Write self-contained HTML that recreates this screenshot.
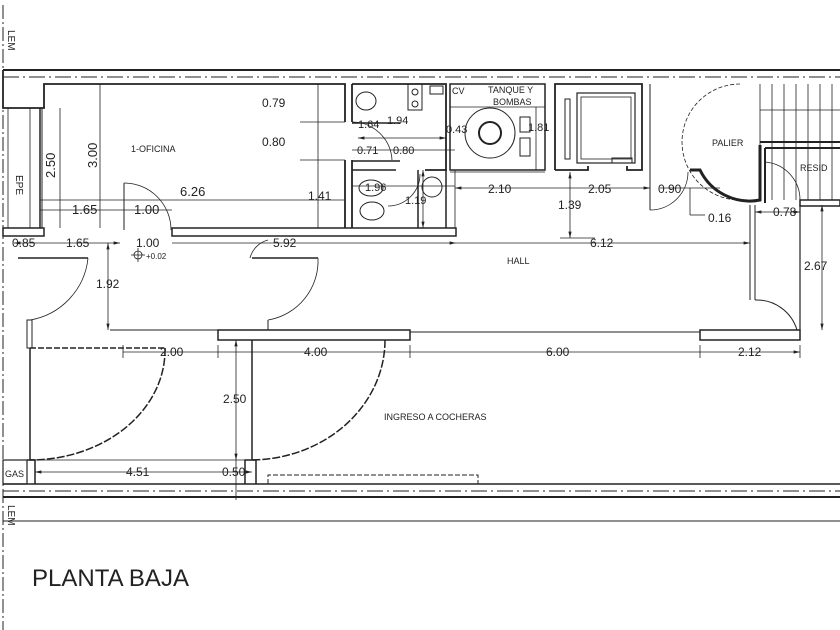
<!DOCTYPE html>
<html><head><meta charset="utf-8"><style>
html,body{margin:0;padding:0;background:#fff;}
svg{display:block;}
text{font-family:"Liberation Sans",sans-serif;fill:#222;}
</style></head><body>
<svg width="840" height="630" viewBox="0 0 840 630" xmlns="http://www.w3.org/2000/svg">
<defs>
<marker id="a" markerWidth="8" markerHeight="6" refX="8" refY="3" orient="auto-start-reverse"><path d="M0,1 L8,3 L0,5z" fill="#222"/></marker>
</defs>
<g stroke="#222" fill="none">
<line x1="3" y1="5" x2="3" y2="640" stroke-width="1" stroke-dasharray="14,3,2,3"/>
<line x1="3" y1="70" x2="840" y2="70" stroke-width="2"/>
<line x1="3" y1="77" x2="840" y2="77" stroke-width="1" stroke-dasharray="16,4,2,4"/>
<line x1="3" y1="484" x2="840" y2="484" stroke-width="1.5"/>
<line x1="3" y1="491" x2="840" y2="491" stroke-width="1" stroke-dasharray="16,4,2,4"/>
<line x1="3" y1="497" x2="840" y2="497" stroke-width="2"/>
<line x1="3" y1="521" x2="840" y2="521" stroke-width="1"/>
<path d="M3,70 V108 H44 V84 H345 V122" stroke-width="1.8"/>
<line x1="40" y1="108" x2="40" y2="228" stroke-width="1.5"/>
<line x1="42" y1="108" x2="42" y2="228" stroke-width="1"/>
<line x1="30" y1="108" x2="30" y2="228" stroke-width="0.8"/>
<line x1="8" y1="108" x2="8" y2="228" stroke-width="0.8"/>
<rect x="3" y="228" width="41" height="8" stroke-width="1.5"/>
<rect x="172" y="228" width="284" height="8" stroke-width="1.5"/>
<path d="M345,160 V228" stroke-width="1.8"/>
<line x1="124" y1="183" x2="124" y2="230" stroke-width="1"/>
<path d="M124,183 A47,47 0 0 1 171,230" stroke-width="0.8"/>
<path d="M352,84 V122 M352,160 V228 M352,84 H446 V170 H425" stroke-width="1.8"/>
<path d="M352,123 H400 M352,161 H400 M418,170 V228 M352,170 H396" stroke-width="1.5"/>
<line x1="446" y1="170" x2="446" y2="228" stroke-width="1.5"/>
<line x1="455" y1="170" x2="455" y2="228" stroke-width="0.8"/>
<ellipse cx="366" cy="101" rx="10" ry="9" stroke-width="1"/>
<rect x="408" y="84" width="14" height="26" stroke-width="1"/>
<circle cx="415" cy="92" r="3" stroke-width="1"/><circle cx="415" cy="104" r="3" stroke-width="1"/>
<ellipse cx="371" cy="188" rx="12" ry="8" stroke-width="1"/>
<ellipse cx="372" cy="211" rx="12" ry="9" stroke-width="1"/>
<circle cx="432" cy="187" r="10" stroke-width="1"/>
<rect x="430" y="86" width="13" height="8" stroke-width="1"/>
<path d="M352,122 A40,40 0 0 1 392,160" stroke-width="0.8"/>
<path d="M388,206 A32,32 0 0 0 420,174" stroke-width="0.8"/>
<rect x="450" y="84" width="95" height="86" stroke-width="1.5"/>
<line x1="450" y1="107" x2="545" y2="107" stroke-width="0.8"/>
<circle cx="490" cy="133" r="25" stroke-width="1"/>
<circle cx="490" cy="133" r="11" stroke-width="2"/>
<rect x="520" y="117" width="10" height="15" stroke-width="1"/>
<rect x="520" y="138" width="10" height="18" stroke-width="1"/>
<line x1="450" y1="172" x2="545" y2="172" stroke-width="0.8"/>
<path d="M555,170 V84 H642 V170 H627 V166 M555,170 H588 V166" stroke-width="1.8"/>
<rect x="577" y="93" width="58" height="70" stroke-width="1.2"/>
<rect x="581" y="97" width="50" height="62" stroke-width="0.8"/>
<rect x="565" y="99" width="5" height="60" stroke-width="1"/>
<rect x="612" y="158" width="20" height="5" stroke-width="1"/>
<line x1="650" y1="84" x2="650" y2="210" stroke-width="1"/>
<path d="M650,210 A38,38 0 0 0 688,172" stroke-width="0.8"/>
<path d="M690,170 H700 A55,55 0 0 0 760,200 V145" stroke-width="3"/>
<path d="M740,84 A55,55 0 0 0 740,200" stroke-width="0.8" stroke-dasharray="4,2"/>
<g stroke-width="0.8">
<line x1="760" y1="84" x2="760" y2="145"/>
<line x1="772" y1="84" x2="772" y2="200"/><line x1="784" y1="84" x2="784" y2="200"/>
<line x1="796" y1="84" x2="796" y2="200"/><line x1="808" y1="84" x2="808" y2="200"/>
<line x1="820" y1="84" x2="820" y2="200"/><line x1="832" y1="84" x2="832" y2="200"/>
<line x1="760" y1="110" x2="840" y2="110"/>
</g>
<path d="M760,142 H840 M765,148 H840 M765,148 V203" stroke-width="2"/>
<path d="M765,162 A38,38 0 0 1 800,200" stroke-width="0.8"/>
<rect x="800" y="200" width="40" height="6" stroke-width="1.5"/>
<line x1="750" y1="205" x2="750" y2="300" stroke-width="1"/>
<line x1="755" y1="205" x2="755" y2="300" stroke-width="1"/>
<path d="M755,300 A42,42 0 0 1 797,330" stroke-width="1"/>
<line x1="800" y1="205" x2="800" y2="330" stroke-width="1.2"/>
<line x1="110" y1="330" x2="218" y2="330" stroke-width="1"/>
<rect x="218" y="330" width="192" height="10" stroke-width="1.5"/>
<line x1="410" y1="332" x2="700" y2="332" stroke-width="1"/>
<rect x="700" y="330" width="100" height="10" stroke-width="1.5"/>
<line x1="18" y1="258" x2="88" y2="258" stroke-width="1.5"/>
<path d="M88,258 A70,70 0 0 1 30,320" stroke-width="0.8"/>
<rect x="27" y="320" width="5" height="28" stroke-width="1"/>
<line x1="252" y1="258" x2="318" y2="258" stroke-width="1.5"/>
<path d="M318,258 A60,60 0 0 1 268,320" stroke-width="0.8"/>
<line x1="268" y1="320" x2="268" y2="330" stroke-width="1"/>
<path d="M250,258 A25,25 0 0 1 268,240" stroke-width="0.8"/>
<line x1="30" y1="348" x2="30" y2="460" stroke-width="1.5"/>
<path d="M30,348 H165" stroke-width="1.5" stroke-dasharray="6,2"/>
<path d="M165,348 A135,110 0 0 1 30,460" stroke-width="1.5" stroke-dasharray="8,2"/>
<line x1="252" y1="340" x2="252" y2="460" stroke-width="1.5"/>
<path d="M385,340 A135,120 0 0 1 252,460" stroke-width="1.5" stroke-dasharray="8,2"/>
<line x1="30" y1="460" x2="252" y2="460" stroke-width="0.8"/>
<rect x="3" y="460" width="24" height="24" stroke-width="1.2"/>
<path d="M27,460 H35 V484 M245,484 V460 H256 V484" stroke-width="1.5"/>
<path d="M268,484 V475 H478 V484" stroke-width="1" stroke-dasharray="5,2"/>
</g>
<g stroke="#222" stroke-width="0.8" fill="none">
<line x1="100" y1="84" x2="100" y2="228"/>
<line x1="60" y1="108" x2="60" y2="228"/>
<line x1="40" y1="200" x2="345" y2="200"/>
<line x1="40" y1="210" x2="172" y2="210"/>
<line x1="318" y1="84" x2="318" y2="228"/>
<line x1="300" y1="122" x2="345" y2="122"/><line x1="300" y1="160" x2="345" y2="160"/>
<line x1="14" y1="243" x2="120" y2="243" marker-start="url(#a)" marker-end="url(#a)"/>
<line x1="172" y1="243" x2="456" y2="243" marker-end="url(#a)"/>
<line x1="456" y1="243" x2="750" y2="243" marker-end="url(#a)"/>
<line x1="455" y1="188" x2="650" y2="188" marker-start="url(#a)" marker-end="url(#a)"/>
<line x1="570" y1="172" x2="570" y2="238" marker-start="url(#a)" marker-end="url(#a)"/>
<line x1="560" y1="238" x2="595" y2="238"/>
<line x1="536" y1="107" x2="536" y2="170"/>
<line x1="108" y1="243" x2="108" y2="330" marker-start="url(#a)" marker-end="url(#a)"/>
<line x1="822" y1="205" x2="822" y2="330" marker-start="url(#a)" marker-end="url(#a)"/>
<line x1="123" y1="352" x2="800" y2="352" marker-end="url(#a)"/>
<line x1="123" y1="345" x2="123" y2="358"/><line x1="218" y1="345" x2="218" y2="358"/>
<line x1="410" y1="345" x2="410" y2="358"/><line x1="700" y1="345" x2="700" y2="358"/><line x1="800" y1="345" x2="800" y2="358"/>
<line x1="236" y1="340" x2="236" y2="460" marker-start="url(#a)" marker-end="url(#a)"/>
<line x1="35" y1="472" x2="252" y2="472" marker-start="url(#a)" marker-end="url(#a)"/>
<line x1="236" y1="460" x2="236" y2="500"/>
<line x1="358" y1="138" x2="446" y2="138" marker-start="url(#a)" marker-end="url(#a)"/>
<line x1="352" y1="150" x2="455" y2="150"/>
<line x1="352" y1="186" x2="455" y2="186"/>
<line x1="423" y1="170" x2="423" y2="228" marker-start="url(#a)" marker-end="url(#a)"/>
<line x1="660" y1="188" x2="720" y2="188"/>
<line x1="690" y1="188" x2="690" y2="215"/><line x1="690" y1="215" x2="705" y2="215"/>
<line x1="755" y1="212" x2="800" y2="212" marker-start="url(#a)" marker-end="url(#a)"/>
</g>
<g stroke="#222" stroke-width="0.8" fill="none"><circle cx="138" cy="255" r="4"/><line x1="138" y1="248" x2="138" y2="262"/><line x1="131" y1="255" x2="145" y2="255"/></g>
<g font-size="12">
<text x="131" y="152" font-size="9">1-OFICINA</text>
<text x="180" y="196" font-size="13">6.26</text>
<text x="72" y="214" font-size="13">1.65</text><text x="134" y="214" font-size="13">1.00</text>
<text x="262" y="107">0.79</text><text x="262" y="146">0.80</text>
<text x="308" y="200">1.41</text>
<text x="358" y="128" font-size="11">1.64</text><text x="387" y="124" font-size="11">1.94</text>
<text x="357" y="154" font-size="11">0.71</text><text x="393" y="154" font-size="11">0.80</text>
<text x="446" y="133" font-size="11">0.43</text><text x="528" y="131" font-size="11">1.81</text>
<text x="365" y="191" font-size="11">1.96</text><text x="405" y="204" font-size="11">1.19</text>
<text x="452" y="94" font-size="9">CV</text>
<text x="488" y="93" font-size="9">TANQUE Y</text><text x="493" y="105" font-size="9">BOMBAS</text>
<text x="712" y="146" font-size="9">PALIER</text><text x="800" y="171" font-size="9">RESID</text>
<text x="488" y="193">2.10</text><text x="588" y="193">2.05</text><text x="658" y="193">0.90</text>
<text x="708" y="222">0.16</text><text x="773" y="216">0.78</text>
<text x="558" y="209">1.39</text><text x="590" y="247">6.12</text>
<text x="12" y="247">0.85</text><text x="66" y="247">1.65</text><text x="136" y="247">1.00</text><text x="273" y="247">5.92</text>
<text x="507" y="264" font-size="9">HALL</text>
<text x="96" y="288">1.92</text><text x="146" y="259" font-size="8">+0.02</text>
<text x="804" y="270">2.67</text>
<text x="160" y="356">2.00</text><text x="304" y="356">4.00</text><text x="546" y="356">6.00</text><text x="738" y="356">2.12</text>
<text x="223" y="403">2.50</text>
<text x="384" y="420" font-size="9">INGRESO A COCHERAS</text>
<text x="126" y="476">4.51</text><text x="222" y="476">0.50</text>
<text x="5" y="477" font-size="9">GAS</text>
<text x="32" y="586" font-size="24">PLANTA BAJA</text>
</g>
<text x="0" y="0" font-size="10" transform="translate(8,30) rotate(90)">LEM</text>
<text x="0" y="0" font-size="10" transform="translate(8,505) rotate(90)">LEM</text>
<text x="0" y="0" font-size="10" transform="translate(16,175) rotate(90)">EPE</text>
<text x="0" y="0" font-size="13" transform="translate(55,178) rotate(-90)">2.50</text>
<text x="0" y="0" font-size="13" transform="translate(97,168) rotate(-90)">3.00</text>
</svg>
</body></html>
